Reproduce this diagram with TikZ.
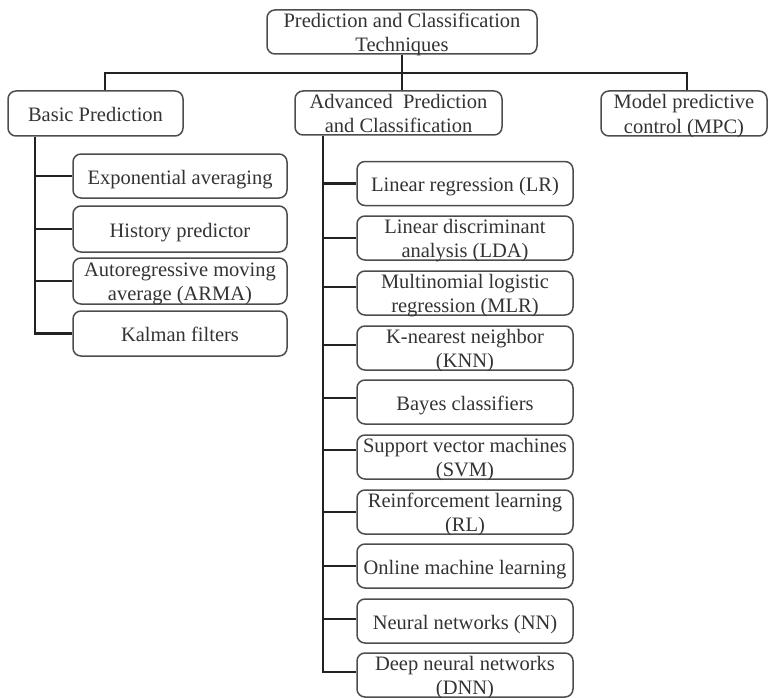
\documentclass[tikz,border=0pt]{standalone}
\usepackage{fontspec}
\setmainfont{Liberation Serif}
\definecolor{linecol}{HTML}{222222}
\definecolor{boxgray}{HTML}{4D4D4D}
\definecolor{textgray}{HTML}{333333}
\newcommand\mybox[7]{%
  \node[box, minimum width=#4pt, minimum height=#5pt] (#1) at (#2,#3) {};
  \node[txt, #6] (#1-t) at (#1.center) {\rule{0pt}{15pt}#7};}
\begin{document}
\begin{tikzpicture}[x=1pt,y=-1pt,
  box/.style={draw=boxgray, line width=1.5pt, rounded corners=8pt, inner sep=0pt, fill=white},
  txt/.style={text=textgray, font=\fontsize{20.5}{24.5}\selectfont, align=center, inner sep=0pt, anchor=north},
  oneline/.style={yshift=7pt},
  twoline/.style={yshift=20pt},
  conn/.style={draw=linecol, line width=2.6pt}]
\useasboundingbox[fill=white] (0,0) rectangle (768,698);
% top level
\mybox{top}{402}{32}{270}{44}{twoline}{Prediction and Classification\\Techniques}
\mybox{basic}{95.5}{113.5}{175}{45}{oneline}{Basic Prediction}
\mybox{adv}{398.5}{113}{207}{44}{twoline}{Advanced\ \ Prediction\\and Classification}
\mybox{mpc}{684}{113.5}{166}{45}{twoline}{Model predictive\\control (MPC)}
% basic prediction children
\mybox{exp}{180}{176}{214}{44}{oneline}{Exponential averaging}
\mybox{hist}{180}{229}{214}{46}{oneline}{History predictor}
\mybox{arma}{180}{281}{214}{46}{twoline}{Autoregressive moving\\average (ARMA)}
\mybox{kal}{180}{333.5}{214}{45}{oneline}{Kalman filters}
% advanced children
\mybox{lr}{465}{183.5}{216}{44}{oneline}{Linear regression (LR)}
\mybox{lda}{465}{238}{216}{44}{twoline}{Linear discriminant\\analysis (LDA)}
\mybox{mlr}{465}{293}{216}{44}{twoline}{Multinomial logistic\\regression (MLR)}
\mybox{knn}{465}{348}{216}{44}{twoline}{K-nearest neighbor\\(KNN)}
\mybox{bayes}{465}{402}{216}{44}{oneline}{Bayes classifiers}
\mybox{svm}{465}{457}{216}{44}{twoline}{Support vector machines\\(SVM)}
\mybox{rl}{465}{512}{216}{44}{twoline}{Reinforcement learning\\(RL)}
\mybox{online}{465}{566}{216}{44}{oneline}{Online machine learning}
\mybox{nn}{465}{621}{216}{44}{oneline}{Neural networks (NN)}
\mybox{dnn}{465}{675}{216}{44}{twoline}{Deep neural networks\\(DNN)}
% junction coordinates
\coordinate (jl) at (105,73);
\coordinate (jr) at (687,73);
\coordinate (lv) at (35,136);
\coordinate (mv) at (323,136);
% top connectors
\draw[conn] (top.south) -- (top.south |- adv.north);
\draw[conn] (jl |- basic.north) -- (jl) -- (jr) -- (jr |- mpc.north);
% left branch
\draw[conn] (lv |- basic.south) -- (lv |- kal.west) -- (kal.west);
\foreach \n in {exp,hist,arma}{\draw[conn] (lv |- \n.west) -- (\n.west);}
% middle branch
\path ([yshift=3pt]dnn.west) coordinate (t-dnn)
      ([yshift=6pt]mlr.west) coordinate (t-mlr)
      ([yshift=3pt]knn.west) coordinate (t-knn)
      ([yshift=4pt]bayes.west) coordinate (t-bayes)
      ([yshift=7pt]svm.west) coordinate (t-svm)
      ([yshift=2pt]nn.west) coordinate (t-nn);
\draw[conn] (mv |- adv.south) -- (mv |- t-dnn) -- (t-dnn);
\foreach \n in {lr,lda,rl,online}{\draw[conn] (mv |- \n.west) -- (\n.west);}
\foreach \n in {t-mlr,t-knn,t-bayes,t-svm,t-nn}{\draw[conn] (mv |- \n) -- (\n);}
\end{tikzpicture}
\end{document}
